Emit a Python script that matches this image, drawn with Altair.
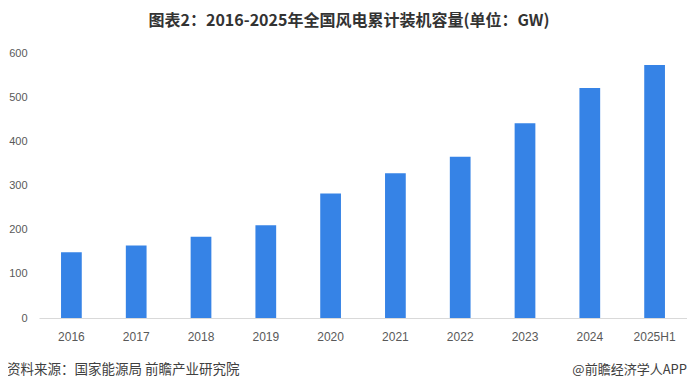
import altair as alt
import pandas as pd

years = ["2016", "2017", "2018", "2019", "2020", "2021", "2022", "2023", "2024", "2025H1"]
capacity = [149, 164, 184, 210, 282, 328, 365, 441, 521, 573]
y_ticks = [0, 100, 200, 300, 400, 500, 600]
title_text = "图表2：2016-2025年全国风电累计装机容量(单位：GW)"
source_text = "资料来源：国家能源局 前瞻产业研究院"
brand_text = "@前瞻经济学人APP"

df = pd.DataFrame({"year": years, "value": capacity})
one = pd.DataFrame({"a": [0]})

FONT = "Noto Sans CJK SC"
NUMFONT = "Liberation Sans"

bars = alt.Chart(df).mark_bar(color="#3683E6").encode(
    x=alt.X("year:N", sort=years, title=None,
            scale=alt.Scale(paddingInner=0.68, paddingOuter=0.34),
            axis=alt.Axis(labelAngle=0, ticks=False, labelPadding=13,
                          domainColor="#D9D9D9", domainWidth=1,
                          labelColor="#595959", labelFontSize=12, labelFont=NUMFONT)),
    y=alt.Y("value:Q", title=None,
            scale=alt.Scale(domain=[0, 600], nice=False),
            axis=alt.Axis(values=y_ticks, grid=False, ticks=False, domain=False,
                          labelPadding=12, labelColor="#595959",
                          labelFontSize=11, labelFont=NUMFONT)),
)

title = alt.Chart(one).mark_text(
    text=title_text, font=FONT, fontSize=16, fontWeight="bold",
    color="#333333", align="center", baseline="middle"
).encode(x=alt.value(310), y=alt.value(-32))

source = alt.Chart(one).mark_text(
    text=source_text, font=FONT, fontSize=13.5, color="#404040",
    align="left", baseline="middle"
).encode(x=alt.value(-32), y=alt.value(317))

brand = alt.Chart(one).mark_text(
    text=brand_text, font=FONT, fontSize=13, color="#404040",
    align="right", baseline="middle"
).encode(x=alt.value(648), y=alt.value(317))

chart = alt.layer(bars, title, source, brand).properties(
    width=648, height=265,
    autosize=alt.AutoSizeParams(type="none"),
    padding={"left": 31, "top": 45, "right": 0, "bottom": 61},
).configure_view(stroke=None)

chart.save("out.html", embed_options={"renderer": "svg", "actions": False})
